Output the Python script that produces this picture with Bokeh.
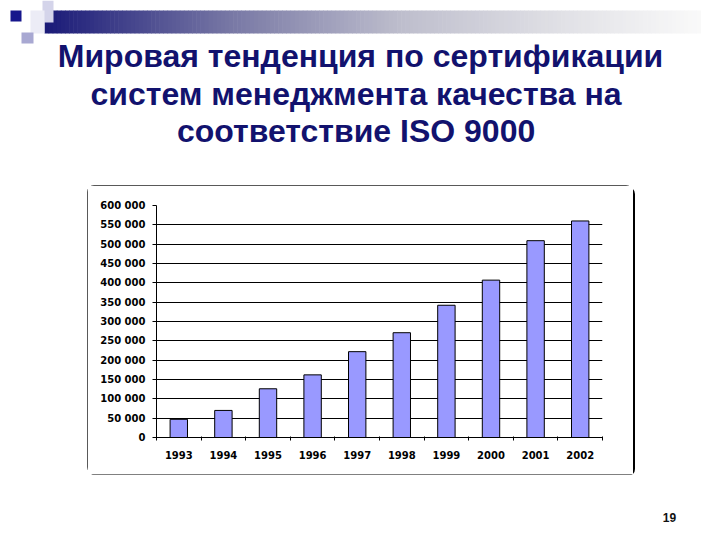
from bokeh.plotting import figure
from bokeh.models import Range1d, FixedTicker, Spacer
from bokeh.layouts import column, row
from bokeh.embed import file_html
from bokeh.resources import INLINE
from bokeh.core.properties import value

# ---------------- data ----------------
years = ["1993", "1994", "1995", "1996", "1997", "1998", "1999", "2000", "2001", "2002"]
certificates = [47000, 70000, 126000, 162000, 222000, 271000, 342000, 407000, 509000, 560000]
y_ticks = [0, 50000, 100000, 150000, 200000, 250000, 300000, 350000, 400000, 450000, 500000, 550000, 600000]
title_lines = ["Мировая тенденция по сертификации",
               "систем менеджмента качества  на",
               "соответствие  ISO 9000"]
page_number = "19"

NAVY = "#12126E"
W = 704

# ---------------- header (title slide area) ----------------
head = figure(width=W, height=185, x_range=Range1d(0, W), y_range=Range1d(185, 0),
              output_backend="svg", toolbar_location=None, min_border=0,
              x_axis_location=None, y_axis_location=None)
head.grid.visible = False
head.outline_line_color = None
head.background_fill_color = "white"
head.border_fill_color = "white"

# gradient bar decoration
stops = [(44, (26, 26, 120)), (230, (120, 120, 165)), (400, (190, 190, 205)), (560, (225, 225, 230)), (700, (250, 250, 250))]
n = 160
gl, gr, gc = [], [], []
for i in range(n):
    x0 = 44 + (700 - 44) * i / n
    x1 = 44 + (700 - 44) * (i + 1) / n + 0.6
    xm = (x0 + x1) / 2
    for (a, ca), (b, cb) in zip(stops[:-1], stops[1:]):
        if a <= xm <= b:
            t = (xm - a) / (b - a)
            c = tuple(int(ca[k] + (cb[k] - ca[k]) * t) for k in range(3))
            break
    else:
        c = stops[-1][1]
    gl.append(x0); gr.append(x1); gc.append("#%02x%02x%02x" % c)
head.quad(left=gl, right=gr, top=[10] * n, bottom=[33] * n, fill_color=gc, line_color=None)

# small squares decoration
head.quad(left=[42], right=[53], top=[0], bottom=[22], fill_color="#D4D4EA", line_color=None)
head.quad(left=[30], right=[44], top=[10], bottom=[33], fill_color="#ECECF6", line_color=None)
head.quad(left=[21], right=[33], top=[32], bottom=[43], fill_color="#A8A8D2", line_color=None)
head.quad(left=[10], right=[21], top=[10], bottom=[21], fill_color="#16168C", line_color=None)

head.text(x=[360, 360, 360], y=[55, 93, 130], text=title_lines,
          text_font=value("Liberation Sans"), text_font_style="bold", text_font_size="32px",
          text_align="center", text_baseline="alphabetic", text_color=NAVY)

# ---------------- chart ----------------
xs = [i + 0.5 for i in range(len(years))]
chart = figure(width=546, height=289, x_range=Range1d(0, len(years)), y_range=Range1d(0, y_ticks[-1]),
               output_backend="svg", toolbar_location=None,
               min_border_left=69, min_border_right=31, min_border_top=20, min_border_bottom=37)
chart.outline_line_color = None
chart.background_fill_color = "white"
chart.border_fill_color = "white"
chart.styles = {"outline": "1px solid #222222", "outline-offset": "-1px",
                "border-radius": "7px", "box-shadow": "2px 2px 0 #000000"}

chart.vbar(x=xs, top=certificates, bottom=0, width=0.39,
           fill_color="#9999FF", line_color="black", line_width=1)

chart.xgrid.visible = False
chart.ygrid.grid_line_color = "black"
chart.ygrid.grid_line_width = 1
chart.ygrid.ticker = FixedTicker(ticks=y_ticks)

yax = chart.yaxis[0]
yax.ticker = FixedTicker(ticks=y_ticks)
yax.major_label_overrides = {v: f"{v:,}".replace(",", " ") for v in y_ticks}
yax.major_tick_out = 4
yax.major_tick_in = 0
yax.minor_tick_line_color = None
yax.major_label_standoff = 7
yax.axis_line_color = "black"
yax.major_tick_line_color = "black"
yax.major_label_text_font = "DejaVu Sans"
yax.major_label_text_font_style = "bold"
yax.major_label_text_font_size = "10px"
yax.major_label_text_color = "black"

xax = chart.xaxis[0]
xax.ticker = FixedTicker(ticks=xs, minor_ticks=list(range(len(years) + 1)))
xax.major_label_overrides = {x: y for x, y in zip(xs, years)}
xax.major_tick_line_color = None
xax.major_tick_out = 0
xax.major_tick_in = 0
xax.minor_tick_line_color = "black"
xax.minor_tick_out = 3
xax.minor_tick_in = 1
xax.major_label_standoff = 10
xax.axis_line_color = "black"
xax.major_label_text_font = "DejaVu Sans"
xax.major_label_text_font_style = "bold"
xax.major_label_text_font_size = "10px"
xax.major_label_text_color = "black"

# ---------------- footer ----------------
foot = figure(width=W, height=58, x_range=Range1d(0, W), y_range=Range1d(532, 474),
              output_backend="svg", toolbar_location=None, min_border=0,
              x_axis_location=None, y_axis_location=None)
foot.grid.visible = False
foot.outline_line_color = None
foot.border_fill_color = "white"
foot.text(x=[669], y=[517], text=[page_number], text_font=value("Liberation Sans"),
          text_font_style="bold", text_font_size="12px", text_align="center",
          text_baseline="alphabetic", text_color="#111111")

layout = column(head,
                row(Spacer(width=87, height=289), chart, Spacer(width=71, height=289)),
                foot)

open("out.html", "w").write(file_html(layout, INLINE, title="ISO 9000"))
